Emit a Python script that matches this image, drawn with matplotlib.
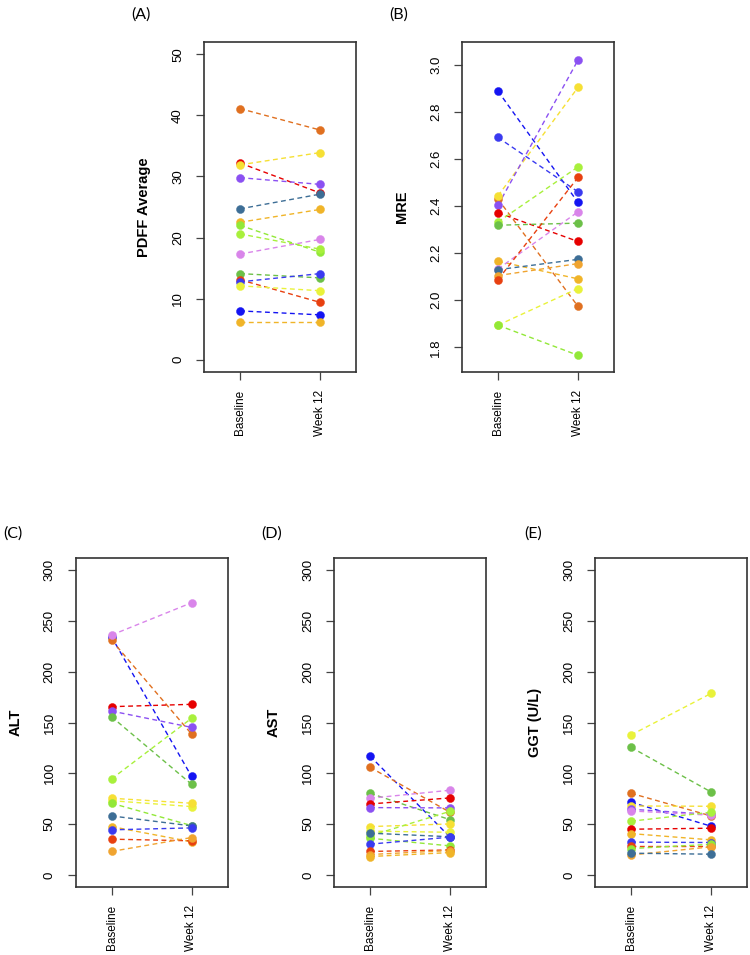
import matplotlib
matplotlib.use("Agg")
import matplotlib.pyplot as plt

# ---------------- data ----------------
timepoints = ["Baseline", "Week 12"]

palette = {
    "orange": "#E07020", "yellow": "#F6E034", "red": "#E60000", "purple": "#8B50F2",
    "steel": "#3D6E96", "gold": "#F0B428", "chartreuse": "#A8F03C", "green": "#6CC048",
    "orchid": "#D985EA", "blue": "#1414F2", "blue2": "#3A3AF0", "redorange": "#E84010",
    "yellow2": "#E9F23A", "lime": "#92E838", "gold2": "#F0A430",
}

pdff_colors = ["orange", "red", "yellow", "purple", "steel", "gold", "lime", "chartreuse",
               "orchid", "green", "redorange", "blue2", "yellow2", "blue", "gold"]
pdff_baseline = [41.1, 32.2, 31.9, 29.8, 24.7, 22.5, 22.0, 20.6, 17.3, 14.1, 13.1, 12.75, 12.1, 8.0, 6.1]
pdff_week12 = [37.6, 27.3, 33.9, 28.7, 27.1, 24.6, 17.6, 18.1, 19.7, 13.4, 9.4, 14.1, 11.3, 7.35, 6.1]

mre_colors = ["blue", "blue2", "orange", "yellow", "purple", "red", "chartreuse", "green",
              "gold", "orchid", "steel", "gold2", "redorange", "yellow2", "lime"]
mre_baseline = [2.889, 2.692, 2.43, 2.444, 2.404, 2.372, 2.333, 2.319, 2.166, 2.133, 2.13, 2.105, 2.088, 1.894, 1.894]
mre_week12 = [2.416, 2.461, 1.974, 2.905, 3.021, 2.250, 2.567, 2.328, 2.091, 2.376, 2.174, 2.156, 2.522, 2.050, 1.766]

alt_colors = ["blue", "orange", "orchid", "red", "purple", "green", "chartreuse", "yellow2",
              "yellow", "lime", "steel", "gold", "blue2", "redorange", "gold2"]
alt_baseline = [234.4, 231.1, 236.1, 165.6, 161.3, 155.7, 94.4, 73.0, 75.4, 70.5, 58.0, 47.5, 44.3, 35.1, 23.0]
alt_week12 = [97.0, 138.7, 267.9, 167.9, 145.2, 89.2, 154.1, 67.2, 70.5, 48.5, 48.2, 32.5, 46.2, 33.5, 36.7]

ast_colors = ["blue", "orange", "green", "orchid", "red", "purple", "yellow", "yellow2",
              "chartreuse", "lime", "steel", "blue2", "redorange", "gold2", "gold"]
ast_baseline = [117.0, 105.9, 80.3, 75.4, 69.8, 66.2, 47.5, 43.0, 38.4, 36.0, 41.0, 30.2, 23.0, 20.0, 18.0]
ast_week12 = [37.1, 61.6, 54.3, 83.3, 75.7, 65.9, 50.1, 41.9, 62.5, 28.5, 37.5, 37.1, 24.5, 23.9, 21.9]

ggt_colors = ["yellow2", "green", "orange", "blue", "yellow", "purple", "orchid", "chartreuse",
              "red", "gold", "blue2", "redorange", "lime", "gold2", "steel"]
ggt_baseline = [137.7, 125.6, 80.3, 71.5, 67.8, 64.6, 62.9, 52.8, 44.9, 40.6, 32.2, 28.8, 25.9, 19.5, 21.3]
ggt_week12 = [178.6, 81.6, 58.0, 47.9, 67.5, 59.5, 58.7, 61.6, 45.9, 34.4, 31.8, 28.8, 30.0, 27.5, 20.3]

# ---------------- figure ----------------
W, H = 750, 955
fig = plt.figure(figsize=(W / 100, H / 100), dpi=100)
plt.rcParams["font.family"] = ["Liberation Sans", "DejaVu Sans"]

def box(left, top, right, bottom):
    return [left / W, 1 - bottom / H, (right - left) / W, (bottom - top) / H]

panels = [
    dict(rect=box(204, 42, 356, 372), base=pdff_baseline, wk=pdff_week12, cols=pdff_colors,
         ylabel="PDFF Average", ylim=(-2, 52), yticks=[0, 10, 20, 30, 40, 50],
         fmt="{:.0f}", tag="(A)", tagxy=(141, 15)),
    dict(rect=box(462, 42, 614, 372), base=mre_baseline, wk=mre_week12, cols=mre_colors,
         ylabel="MRE", ylim=(1.695, 3.098), yticks=[1.8, 2.0, 2.2, 2.4, 2.6, 2.8, 3.0],
         fmt="{:.1f}", tag="(B)", tagxy=(399, 15)),
    dict(rect=box(75.5, 558, 227.5, 887), base=alt_baseline, wk=alt_week12, cols=alt_colors,
         ylabel="ALT", ylim=(-12, 312), yticks=[0, 50, 100, 150, 200, 250, 300],
         fmt="{:.0f}", tag="(C)", tagxy=(13, 534)),
    dict(rect=box(334, 558, 486, 887), base=ast_baseline, wk=ast_week12, cols=ast_colors,
         ylabel="AST", ylim=(-12, 312), yticks=[0, 50, 100, 150, 200, 250, 300],
         fmt="{:.0f}", tag="(D)", tagxy=(272, 534)),
    dict(rect=box(595, 558, 747, 887), base=ggt_baseline, wk=ggt_week12, cols=ggt_colors,
         ylabel="GGT (U/L)", ylim=(-12, 312), yticks=[0, 50, 100, 150, 200, 250, 300],
         fmt="{:.0f}", tag="(E)", tagxy=(533, 534)),
]

xpos = [1, 2]
for p in panels:
    ax = fig.add_axes(p["rect"])
    for b, w, c in zip(p["base"], p["wk"], p["cols"]):
        col = palette[c]
        ax.plot(xpos, [b, w], color=col, lw=1.0, ls=(0, (3.5, 2.5)), zorder=2)
        ax.plot(xpos, [b, w], ls="none", marker="o", ms=5.8, mfc=col, mec=col, mew=0.3, zorder=3)
    ax.set_xlim(0.55, 2.45)
    ax.set_ylim(*p["ylim"])
    ax.set_xticks(xpos)
    ax.set_xticklabels(timepoints, rotation=90, fontsize=8.5, va="top", ha="center")
    ax.set_yticks(p["yticks"])
    ax.set_yticklabels([p["fmt"].format(v) for v in p["yticks"]], rotation=90,
                       va="center", ha="right", fontsize=9.5)
    ax.tick_params(axis="both", length=5.8, width=0.9, color="#444444")
    ax.tick_params(axis="y", pad=8.5)
    ax.tick_params(axis="x", pad=7)
    for s in ax.spines.values():
        s.set_linewidth(1.2)
        s.set_color("#333333")
    ax.set_ylabel(p["ylabel"], fontsize=10.5, fontweight="bold", va="center")
    ax.yaxis.set_label_coords(-60 / 152, 0.5)
    fig.text(p["tagxy"][0] / W, 1 - p["tagxy"][1] / H, p["tag"], fontsize=11.5,
             ha="center", va="center", family=["Lato", "DejaVu Sans"])

fig.savefig("out.png", dpi=100)
